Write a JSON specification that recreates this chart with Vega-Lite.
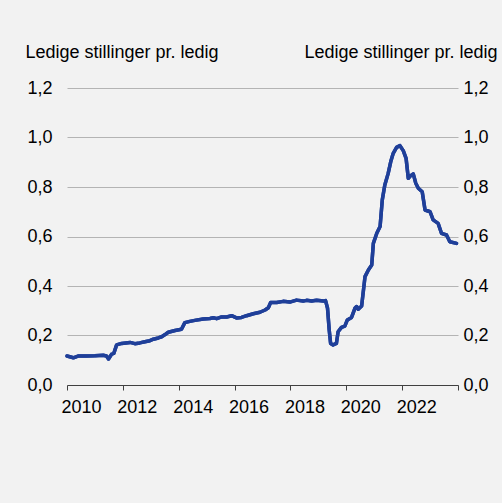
{
  "$schema": "https://vega.github.io/schema/vega-lite/v6.json",
  "width": 391,
  "height": 297,
  "autosize": {"type": "none"},
  "padding": {"left": 67, "top": 88, "right": 44, "bottom": 118},
  "background": "#f2f2f2",
  "config": {
    "view": {"stroke": null},
    "font": "Liberation Sans",
    "axis": {"labelFont": "Liberation Sans", "titleFont": "Liberation Sans", "labelFontSize": 18, "labelColor": "#000000", "titleColor": "#000000"}
  },
  "data": {"values": [
    {"date": "2010-01-01", "v": 0.117},
    {"date": "2010-03-25", "v": 0.110},
    {"date": "2010-05-25", "v": 0.117},
    {"date": "2010-09-12", "v": 0.117},
    {"date": "2011-01-01", "v": 0.118},
    {"date": "2011-04-20", "v": 0.120},
    {"date": "2011-06-01", "v": 0.117},
    {"date": "2011-06-28", "v": 0.105},
    {"date": "2011-08-08", "v": 0.125},
    {"date": "2011-09-05", "v": 0.128},
    {"date": "2011-10-12", "v": 0.162},
    {"date": "2011-12-16", "v": 0.168},
    {"date": "2012-04-05", "v": 0.172},
    {"date": "2012-06-06", "v": 0.167},
    {"date": "2012-08-10", "v": 0.170},
    {"date": "2012-10-15", "v": 0.175},
    {"date": "2012-12-20", "v": 0.179},
    {"date": "2013-02-03", "v": 0.185},
    {"date": "2013-04-09", "v": 0.190},
    {"date": "2013-05-23", "v": 0.195},
    {"date": "2013-07-17", "v": 0.206},
    {"date": "2013-08-18", "v": 0.213},
    {"date": "2013-11-14", "v": 0.220},
    {"date": "2014-02-06", "v": 0.225},
    {"date": "2014-03-22", "v": 0.252},
    {"date": "2014-05-26", "v": 0.257},
    {"date": "2014-07-31", "v": 0.261},
    {"date": "2014-11-17", "v": 0.267},
    {"date": "2015-02-14", "v": 0.269},
    {"date": "2015-03-29", "v": 0.272},
    {"date": "2015-05-12", "v": 0.268},
    {"date": "2015-07-16", "v": 0.275},
    {"date": "2015-09-20", "v": 0.275},
    {"date": "2015-11-24", "v": 0.280},
    {"date": "2016-01-26", "v": 0.271},
    {"date": "2016-04-01", "v": 0.273},
    {"date": "2016-06-06", "v": 0.280},
    {"date": "2016-09-02", "v": 0.288},
    {"date": "2016-11-28", "v": 0.294},
    {"date": "2017-02-03", "v": 0.303},
    {"date": "2017-03-18", "v": 0.312},
    {"date": "2017-04-16", "v": 0.333},
    {"date": "2017-07-05", "v": 0.333},
    {"date": "2017-09-27", "v": 0.338},
    {"date": "2017-12-24", "v": 0.335},
    {"date": "2018-03-21", "v": 0.343},
    {"date": "2018-06-17", "v": 0.339},
    {"date": "2018-07-31", "v": 0.342},
    {"date": "2018-10-05", "v": 0.339},
    {"date": "2018-12-09", "v": 0.342},
    {"date": "2019-03-07", "v": 0.339},
    {"date": "2019-04-05", "v": 0.341},
    {"date": "2019-05-01", "v": 0.310},
    {"date": "2019-05-23", "v": 0.222},
    {"date": "2019-06-10", "v": 0.168},
    {"date": "2019-07-13", "v": 0.162},
    {"date": "2019-08-25", "v": 0.168},
    {"date": "2019-09-16", "v": 0.215},
    {"date": "2019-10-30", "v": 0.233},
    {"date": "2019-12-13", "v": 0.238},
    {"date": "2020-01-15", "v": 0.263},
    {"date": "2020-03-10", "v": 0.273},
    {"date": "2020-04-23", "v": 0.310},
    {"date": "2020-05-15", "v": 0.317},
    {"date": "2020-06-06", "v": 0.306},
    {"date": "2020-07-20", "v": 0.319},
    {"date": "2020-09-02", "v": 0.438},
    {"date": "2020-10-16", "v": 0.465},
    {"date": "2020-11-29", "v": 0.485},
    {"date": "2020-12-20", "v": 0.572},
    {"date": "2021-02-03", "v": 0.613},
    {"date": "2021-03-18", "v": 0.640},
    {"date": "2021-04-16", "v": 0.748},
    {"date": "2021-05-19", "v": 0.808},
    {"date": "2021-07-02", "v": 0.855},
    {"date": "2021-08-04", "v": 0.902},
    {"date": "2021-09-06", "v": 0.936},
    {"date": "2021-10-20", "v": 0.960},
    {"date": "2021-12-03", "v": 0.967},
    {"date": "2022-01-15", "v": 0.947},
    {"date": "2022-02-21", "v": 0.916},
    {"date": "2022-03-22", "v": 0.835},
    {"date": "2022-04-23", "v": 0.846},
    {"date": "2022-05-26", "v": 0.853},
    {"date": "2022-06-28", "v": 0.815},
    {"date": "2022-07-31", "v": 0.795},
    {"date": "2022-09-20", "v": 0.781},
    {"date": "2022-10-27", "v": 0.707},
    {"date": "2023-01-01", "v": 0.700},
    {"date": "2023-02-10", "v": 0.667},
    {"date": "2023-04-16", "v": 0.653},
    {"date": "2023-05-30", "v": 0.613},
    {"date": "2023-08-04", "v": 0.606},
    {"date": "2023-09-16", "v": 0.579},
    {"date": "2023-12-13", "v": 0.572}
  ]},
  "resolve": {"axis": {"y": "independent"}},
  "layer": [
    {
      "mark": {"type": "line", "color": "#1f3f99", "strokeWidth": 3.5, "strokeJoin": "round", "strokeCap": "round"},
      "encoding": {
        "x": {
          "field": "date", "type": "temporal",
          "scale": {"type": "utc", "domain": [{"year": 2010, "utc": true}, {"year": 2024, "utc": true}]},
          "axis": {
            "title": null, "grid": false, "orient": "bottom",
            "values": [{"year": 2010, "utc": true}, {"year": 2011, "utc": true}, {"year": 2012, "utc": true}, {"year": 2013, "utc": true}, {"year": 2014, "utc": true}, {"year": 2015, "utc": true}, {"year": 2016, "utc": true}, {"year": 2017, "utc": true}, {"year": 2018, "utc": true}, {"year": 2019, "utc": true}, {"year": 2020, "utc": true}, {"year": 2021, "utc": true}, {"year": 2022, "utc": true}, {"year": 2023, "utc": true}, {"year": 2024, "utc": true}],
            "format": "%Y",
            "labelExpr": "(+datum.label) % 2 == 0 && (+datum.label) < 2024 ? datum.label : ''",
            "labelOverlap": false,
            "labelFlush": false,
            "labelOffset": 14,
            "labelPadding": 8,
            "tickSize": 5,
            "tickColor": "#404040",
            "domainColor": "#404040",
            "domainWidth": 1
          }
        },
        "y": {
          "field": "v", "type": "quantitative",
          "scale": {"domain": [0, 1.2], "nice": false, "zero": true},
          "axis": {
            "orient": "left",
            "title": "Ledige stillinger pr. ledig",
            "titleAngle": 0, "titleAlign": "left", "titleBaseline": "alphabetic",
            "titleX": -42, "titleY": -31, "titleFontSize": 18, "titleFontWeight": "normal",
            "values": [0, 0.2, 0.4, 0.6, 0.8, 1.0, 1.2],
            "labelExpr": "replace(format(datum.value, '.1f'), '.', ',')",
            "domain": false, "ticks": false, "labelPadding": 15,
            "grid": true, "gridColor": "#b4b4b4", "gridWidth": 1
          }
        }
      }
    },
    {
      "mark": {"type": "line", "color": "#1f3f99", "strokeWidth": 3.5, "strokeJoin": "round", "strokeCap": "round"},
      "encoding": {
        "x": {"field": "date", "type": "temporal"},
        "y": {
          "field": "v", "type": "quantitative",
          "axis": {
            "orient": "right",
            "title": "Ledige stillinger pr. ledig",
            "titleAngle": 0, "titleAlign": "right", "titleBaseline": "alphabetic",
            "titleX": 39, "titleY": -31, "titleFontSize": 18, "titleFontWeight": "normal",
            "values": [0, 0.2, 0.4, 0.6, 0.8, 1.0, 1.2],
            "labelExpr": "replace(format(datum.value, '.1f'), '.', ',')",
            "domain": false, "ticks": false, "labelPadding": 5,
            "grid": false
          }
        }
      }
    }
  ]
}
